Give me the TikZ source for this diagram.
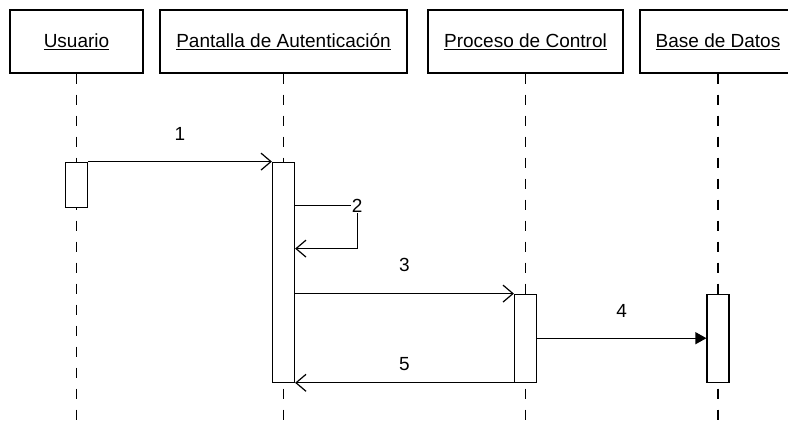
\documentclass[tikz,border=0pt]{standalone}
\usepackage{fontspec}
\setmainfont{Liberation Sans}
\usetikzlibrary{arrows.meta, positioning, calc}

\begin{document}
\begin{tikzpicture}[x=1pt, y=-1pt,
      font=\fontsize{19}{22}\selectfont,
      actor/.style={rectangle, draw, line width=1.2pt, minimum width=#1, minimum height=63pt, inner sep=0pt},
      act/.style={rectangle, draw, fill=white, line width=1.2pt, minimum width=22pt, minimum height=#1, inner sep=0pt},
      life/.style={line width=1.2pt, dash pattern=on 10pt off 11pt},
      msg/.style={line width=1.2pt, -{Straight Barb[length=10pt, width=17pt, line width=1.2pt]}},
      call/.style={line width=1.2pt, -{Triangle[length=11pt, width=12pt]}},
      num/.style={inner sep=0pt}
    ]
    \clip (0,0) rectangle (788,423);

    \node[actor=133pt] (usuario) at (76.5,41.5) {\underline{Usuario}};
    \node[actor=247pt] (pantalla) at (283.5,41.5) {\underline{Pantalla de Autenticación}};
    \node[actor=195pt] (proceso) at (525.5,41.5) {\underline{Proceso de Control}};
    \node[actor=156pt] (base) at (718,41.5) {\underline{Base de Datos}};

    \foreach \p in {usuario, pantalla, proceso, base}
      \draw[life] (\p.south) -- ++(0,360);

    \node[act=45pt, below=88pt of usuario] (actU) {};
    \node[act=220pt, below=88pt of pantalla] (actP) {};
    \node[act=88pt, below=220pt of proceso] (actC) {};
    \node[act=88pt, below=220pt of base] (actB) {};

    \draw[msg] (actU.north east) -- node[num, above=21pt] {1} (actP.north west);

    \node[num, fill=white, inner sep=1pt] (n2) at ($(actP.north east)+(62,44)$) {2};
    \draw[line width=1.2pt] (actP.east |- n2) -- (n2.west);
    \draw[msg] (n2.south) |- ($(actP.north east)+(0,87)$);

    \draw[msg] (actP.east |- actC.north) -- node[num, above=21pt] {3} (actC.north west);
    \draw[call] (actC.east) -- node[num, above=20pt] {4} (actB.west);
    \draw[msg] (actC.south west) -- node[num, above=12pt] {5} (actP.east |- actC.south);
  \end{tikzpicture}
\end{document}
